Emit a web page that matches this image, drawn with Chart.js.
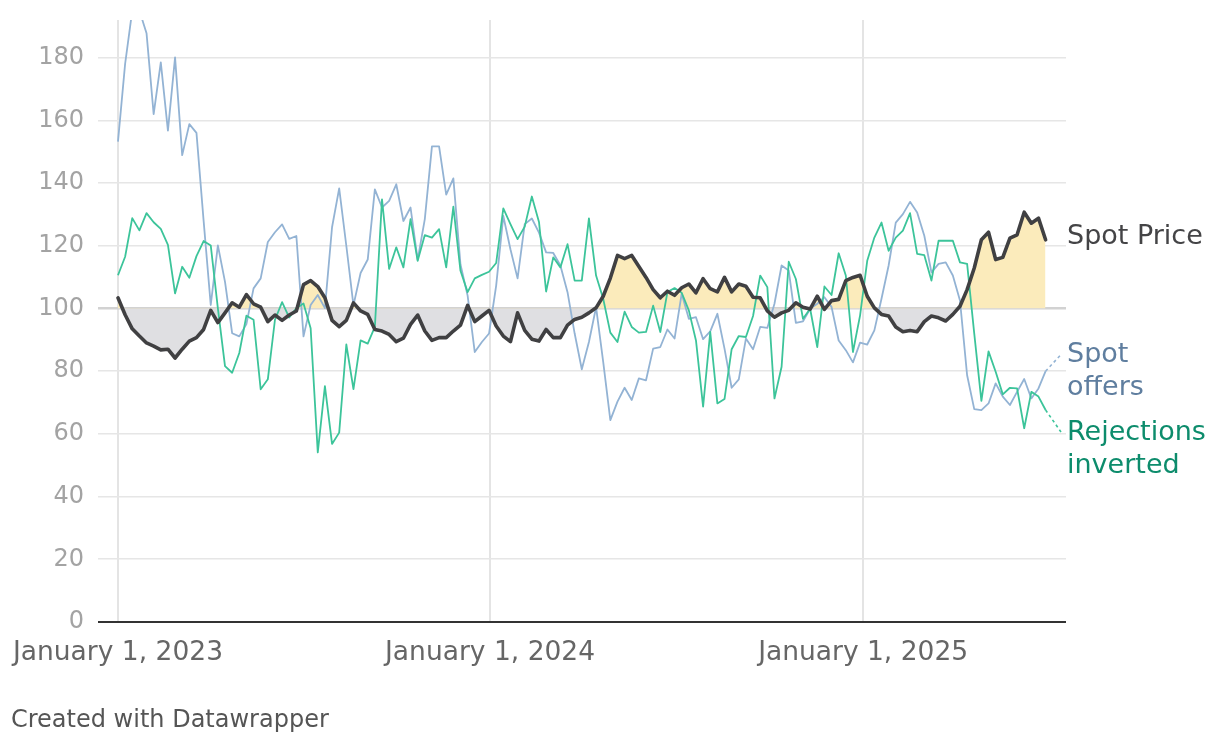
<!DOCTYPE html>
<html>
<head>
<meta charset="utf-8">
<script src="https://cdn.jsdelivr.net/npm/chart.js@4.4.1/dist/chart.umd.min.js"></script>
<style>
    html, body { margin: 0; padding: 0; background: #fff; }
    #wrap { position: relative; width: 1220px; height: 746px; }
</style>
</head>
<body>
<div id="wrap"><canvas id="myChart"></canvas></div>
<script>
// Weekly observations
const weeks = [
    '2023-01-01','2023-01-08','2023-01-15','2023-01-22','2023-01-29','2023-02-05','2023-02-12','2023-02-19','2023-02-26',
    '2023-03-05','2023-03-12','2023-03-19','2023-03-26','2023-04-02','2023-04-09','2023-04-16','2023-04-23','2023-04-30',
    '2023-05-07','2023-05-14','2023-05-21','2023-05-28','2023-06-04','2023-06-11','2023-06-18','2023-06-25',
    '2023-07-02','2023-07-09','2023-07-16','2023-07-23','2023-07-30','2023-08-06','2023-08-13','2023-08-20','2023-08-27',
    '2023-09-03','2023-09-10','2023-09-17','2023-09-24','2023-10-01','2023-10-08','2023-10-15','2023-10-22','2023-10-29',
    '2023-11-05','2023-11-12','2023-11-19','2023-11-26','2023-12-03','2023-12-10','2023-12-17','2023-12-24','2023-12-31',
    '2024-01-07','2024-01-14','2024-01-21','2024-01-28','2024-02-04','2024-02-11','2024-02-18','2024-02-25',
    '2024-03-03','2024-03-10','2024-03-17','2024-03-24','2024-03-31','2024-04-07','2024-04-14','2024-04-21','2024-04-28',
    '2024-05-05','2024-05-12','2024-05-19','2024-05-26','2024-06-02','2024-06-09','2024-06-16','2024-06-23','2024-06-30',
    '2024-07-07','2024-07-14','2024-07-21','2024-07-28','2024-08-04','2024-08-11','2024-08-18','2024-08-25',
    '2024-09-01','2024-09-08','2024-09-15','2024-09-22','2024-09-29','2024-10-06','2024-10-13','2024-10-20','2024-10-27',
    '2024-11-03','2024-11-10','2024-11-17','2024-11-24','2024-12-01','2024-12-08','2024-12-15','2024-12-22','2024-12-29',
    '2025-01-05','2025-01-12','2025-01-19','2025-01-26','2025-02-02','2025-02-09','2025-02-16','2025-02-23',
    '2025-03-02','2025-03-09','2025-03-16','2025-03-23','2025-03-30','2025-04-06','2025-04-13','2025-04-20','2025-04-27',
    '2025-05-04','2025-05-11','2025-05-18','2025-05-25','2025-06-01','2025-06-08','2025-06-15','2025-06-22','2025-06-29'
];

const spotPrice = [
    103.4, 98, 93.5, 91.2, 89, 88, 86.8, 87, 84.2, 87, 89.6, 90.7, 93.3, 99.4, 95.5, 98.6, 101.8, 100.4, 104.4, 101.5,
    100.4, 95.8, 97.9, 96.2, 97.9, 99.2, 107.6, 108.9, 107, 103.4, 96.2, 94.2, 96.2, 101.8, 99.2, 98.1, 93.3, 92.8, 91.7, 89.4,
    90.5, 94.9, 97.9, 92.8, 89.8, 90.7, 90.7, 92.8, 94.7, 101, 95.8, 97.6, 99.4, 94.4, 91.2, 89.4, 98.6, 93, 90.2, 89.6,
    93.3, 90.7, 90.7, 94.7, 96.5, 97.2, 98.6, 100.2, 103.9, 109.7, 116.9, 115.9, 116.9, 113.4, 109.9, 106, 103.4, 105.5, 104.2, 106.6,
    107.8, 105, 109.5, 106.3, 105.3, 109.9, 105.3, 107.8, 107.1, 103.6, 103.4, 99.2, 97.2, 98.6, 99.4, 101.8, 100.4, 99.8, 103.9, 99.7,
    102.5, 102.9, 108.9, 109.9, 110.6, 103.9, 100.2, 98.1, 97.6, 94.1, 92.6, 93, 92.6, 95.8, 97.6, 97, 96, 98.1, 100.7, 106,
    112.9, 121.9, 124.3, 115.6, 116.3, 122.4, 123.5, 130.7, 127.2, 128.8, 121.9
];

const spotOffers = [
    153.2, 178, 195, 195, 187.8, 162, 178.5, 156.7, 180.1, 148.9, 158.8, 156, 128, 101.1, 120.1, 108.5, 92.1, 91.1, 95, 106.4,
    109.6, 121.2, 124.3, 126.8, 122.2, 123.1, 91.1, 101.1, 104.3, 100.1, 125.9, 138.3, 120, 101, 111.3, 115.6, 138, 132.2, 134.3, 139.6,
    127.9, 132.2, 115.5, 128.5, 151.7, 151.7, 136.3, 141.5, 114, 104.1, 86.1, 89.3, 92, 107.3, 129.5, 118.9, 109.6, 126.9, 128.7, 124.2,
    117.9, 117.7, 113.7, 105.2, 92, 80.6, 89.3, 100.4, 83, 64.4, 70.3, 74.7, 70.8, 77.7, 77.1, 87.2, 87.7, 93.3, 90.4, 104.7,
    96.7, 97.2, 90.2, 92.7, 98.3, 87.2, 74.7, 77.4, 90.4, 87, 94.1, 93.8, 101.5, 113.7, 112.1, 95.4, 95.9, 99.9, 101.5, 103.6,
    100.5, 89.8, 86.7, 82.8, 89.1, 88.5, 93, 103.1, 113.7, 127.4, 130.1, 134, 130.6, 123.2, 111.5, 114.2, 114.7, 110.5, 102.5, 78.7,
    67.9, 67.6, 69.7, 76.1, 71.9, 69.2, 73.4, 77.5, 71.3, 74.5, 80
];

const rejectionsInverted = [
    110.6, 116.5, 128.8, 124.9, 130.4, 127.5, 125.4, 120.3, 104.8, 113.3, 109.8, 116.7, 121.5, 120.1, 100, 81.6, 79.5, 85.8, 97.7, 96.4,
    74.2, 77.4, 96.4, 102, 97.1, 100.1, 101.6, 93.7, 54.1, 75.2, 56.8, 60.4, 88.5, 74.3, 89.8, 88.8, 94.1, 134.8, 112.6, 119.5,
    113.1, 128.5, 115.2, 123.4, 122.6, 125.3, 113.1, 132.5, 112, 105.2, 109.6, 110.7, 111.7, 114.5, 131.9, 126.9, 122.1, 126.1, 135.7, 127.6,
    105.4, 116.3, 113.1, 120.5, 108.9, 108.9, 128.7, 110.5, 103.1, 92.3, 89.3, 99, 94.1, 92.3, 92.5, 100.9, 92.5, 105.2, 106.5, 105,
    99.4, 89.8, 68.7, 92.5, 69.7, 71.1, 87, 91.2, 90.9, 97.6, 110.5, 106.8, 71.3, 81.4, 114.9, 109.4, 96.7, 99.9, 87.7, 107,
    104.3, 117.6, 110.5, 86.1, 97.8, 115.2, 122.6, 127.4, 118.4, 122.6, 124.8, 130.4, 117.4, 117, 108.9, 121.6, 121.6, 121.6, 114.7, 114.2,
    92, 70.5, 86.3, 79.8, 72.6, 74.7, 74.5, 61.8, 73.4, 71.9, 67.6
];

const yTicks = [0, 20, 40, 60, 80, 100, 120, 140, 160, 180];
const xTickDates = ['2023-01-01', '2024-01-01', '2025-01-01'];
const xTickLabels = ['January 1, 2023', 'January 1, 2024', 'January 1, 2025'];

const FONT = '"DejaVu Sans", "Noto Sans", sans-serif';
const DAY = 86400000;
const t0 = Date.parse(weeks[0]);
function dayOf(d) { return (Date.parse(d) - t0) / DAY; }

const days = weeks.map(dayOf);
const xTickDays = xTickDates.map(dayOf);

function toPoints(values) {
    return values.map((v, i) => ({ x: days[i], y: v }));
}

// labels at the right end, plus the dotted connectors
const endLabels = {
    id: 'endLabels',
    afterDatasetsDraw(chart) {
        const { ctx, chartArea, scales } = chart;
        const x = scales.x, y = scales.y;
        const lastDay = days[days.length - 1];
        const xEnd = chartArea.right - 5;
        const tx = chartArea.right + 1;

        ctx.save();
        // connectors
        const conn = [
            { v: spotOffers[spotOffers.length - 1], to: 85.3, color: '#93b3d4' },
            { v: rejectionsInverted[rejectionsInverted.length - 1], to: 60.6, color: '#3cc49a' }
        ];
        ctx.lineWidth = 1.6;
        ctx.setLineDash([3, 3]);
        conn.forEach(c => {
            ctx.strokeStyle = c.color;
            ctx.beginPath();
            ctx.moveTo(x.getPixelForValue(lastDay), y.getPixelForValue(c.v));
            ctx.lineTo(xEnd, y.getPixelForValue(c.to));
            ctx.stroke();
        });
        ctx.setLineDash([]);

        ctx.font = '27px ' + FONT;
        ctx.textBaseline = 'middle';
        ctx.textAlign = 'left';
        ctx.fillStyle = '#444446';
        ctx.fillText('Spot Price', tx, y.getPixelForValue(spotPrice[spotPrice.length - 1]) - 3);

        ctx.fillStyle = '#5f7e9f';
        let yy = y.getPixelForValue(85.3);
        ctx.fillText('Spot', tx, yy);
        ctx.fillText('offers', tx, yy + 33);

        ctx.fillStyle = '#0d8c6c';
        yy = y.getPixelForValue(60.4);
        ctx.fillText('Rejections', tx, yy);
        ctx.fillText('inverted', tx, yy + 33);

        // footer
        ctx.font = '24px ' + FONT;
        ctx.fillStyle = '#555';
        ctx.fillText('Created with Datawrapper', 11, 721);
        ctx.restore();
    }
};

const ctx = document.getElementById('myChart').getContext('2d');
const myChart = new Chart(ctx, {
    type: 'line',
    data: {
        datasets: [
            {
                label: 'Spot Price',
                data: toPoints(spotPrice),
                borderColor: '#404042',
                borderWidth: 3.6,
                borderJoinStyle: 'round',
                borderCapStyle: 'round',
                pointRadius: 0,
                tension: 0,
                fill: { value: 100, above: '#fbebbb', below: '#dfdfe2' }
            },
            {
                label: 'Rejections inverted',
                data: toPoints(rejectionsInverted),
                borderColor: '#3cc49a',
                borderWidth: 1.8,
                borderJoinStyle: 'round',
                pointRadius: 0,
                tension: 0,
                fill: false
            },
            {
                label: 'Spot offers',
                data: toPoints(spotOffers),
                borderColor: '#93b3d4',
                borderWidth: 1.8,
                borderJoinStyle: 'round',
                pointRadius: 0,
                tension: 0,
                fill: false
            }
        ]
    },
    options: {
        responsive: true,
        maintainAspectRatio: false,
        animation: false,
        layout: { padding: { left: 0, right: 154, top: 20, bottom: 0 } },
        plugins: {
            legend: { display: false },
            tooltip: { enabled: false },
            filler: { drawTime: 'beforeDatasetsDraw' }
        },
        scales: {
            x: {
                type: 'linear',
                min: -19.6,
                max: 930,
                afterBuildTicks: (scale) => { scale.ticks = xTickDays.map(v => ({ value: v })); },
                afterFit: (scale) => { scale.height = 124; scale.paddingLeft = 0; scale.paddingRight = 0; },
                border: { display: false },
                grid: { color: '#e4e4e4', lineWidth: 2, drawTicks: false },
                ticks: {
                    padding: 15,
                    maxRotation: 0,
                    autoSkip: false,
                    color: '#666',
                    font: { family: FONT, size: 26.5 },
                    callback: (v) => {
                        const k = xTickDays.indexOf(v);
                        return k >= 0 ? xTickLabels[k] : '';
                    }
                }
            },
            y: {
                min: 0,
                max: 192,
                afterBuildTicks: (scale) => { scale.ticks = yTicks.map(v => ({ value: v })); },
                afterFit: (scale) => { scale.width = 98; scale.paddingTop = 0; scale.paddingBottom = 0; },
                border: { display: false },
                grid: {
                    drawTicks: false,
                    color: (c) => c.tick.value === 0 ? '#333' : (c.tick.value === 100 ? '#d2d2d2' : '#e6e6e6'),
                    lineWidth: (c) => c.tick.value === 0 ? 2 : (c.tick.value === 100 ? 2.5 : 1.6)
                },
                ticks: {
                    padding: 14,
                    color: '#a3a3a3',
                    font: { family: FONT, size: 24 }
                }
            }
        }
    },
    plugins: [endLabels]
});
</script>
</body>
</html>
